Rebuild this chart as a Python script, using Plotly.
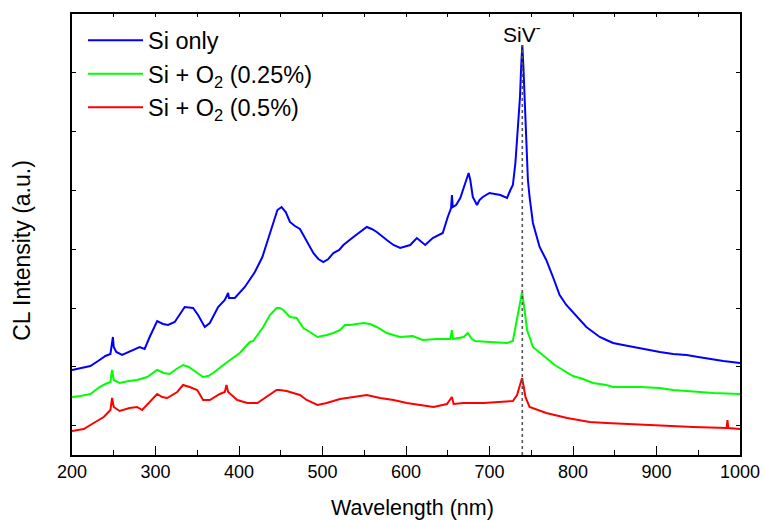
import plotly.graph_objects as go

# Wavelength (nm) and CL intensity (a.u.)
si_wl = [200, 210, 222, 233, 240, 246, 248, 249, 250, 253, 260, 270, 281, 287, 293, 302, 309, 315, 323,
         335, 345, 351, 359, 365, 375, 383, 386, 387, 388, 395, 407, 419, 428, 437, 446, 451, 456, 461,
         467, 473, 480, 489, 495, 501, 507, 513, 520, 525, 537, 545, 553, 559, 565, 577, 585, 593, 605,
         613, 618, 623, 632, 644, 650, 654, 655, 656, 660, 665, 671, 675, 677, 680, 685, 688, 692, 700,
         713, 721, 725, 728, 731, 734, 736.5, 738, 739.3, 740.5, 742, 744, 746, 748, 752, 760, 768, 776,
         784, 792, 800, 808, 816, 824, 832, 840, 848, 860, 872, 888, 904, 920, 936, 950, 964, 980, 1000]
si_int = [85, 87, 89, 95, 99, 101, 110, 118, 108, 103, 100, 104, 108, 106, 118, 134, 131, 130, 133,
          148, 147, 140, 128, 132, 148, 155, 160, 162, 157, 157, 168, 183, 198, 222, 245, 248, 243, 233,
          229, 226, 215, 202, 196, 193, 196, 202, 205, 210, 218, 223, 228, 226, 223, 215, 210, 207, 210,
          217, 213, 210, 217, 222, 238, 247, 260, 248, 250, 257, 272, 282, 275, 258, 250, 255, 258, 262,
          260, 257, 265, 270, 292, 325, 358, 390, 410, 390, 355, 308, 275, 258, 232, 208, 195, 178,
          160, 150, 143, 135, 128, 123, 118, 115, 112, 110, 108, 105, 103, 101, 100, 98, 96, 94, 92]

o025_wl = [200, 210, 222, 233, 240, 246, 248, 250, 257, 268, 278, 290, 302, 310, 317, 325, 333, 340, 345,
           357, 363, 369, 386, 401, 413, 417, 429, 437, 445, 449, 453, 461, 469, 477, 485, 494, 505, 513,
           521, 527, 533, 549, 557, 565, 577, 593, 608, 620, 637, 653, 655, 656, 669, 674, 679, 683, 700,
           721, 728, 733, 736, 739, 742, 745, 752, 760, 768, 778, 788, 800, 812, 824, 840, 848, 864, 880,
           904, 920, 936, 968, 1000]
o025_int = [58, 59, 61, 68, 71, 73, 85, 75, 72, 74, 75, 78, 85, 82, 81, 86, 90, 88, 85,
            78, 79, 82, 93, 102, 113, 114, 128, 140, 147, 147, 145, 138, 137, 127, 123, 118, 120, 122,
            125, 130, 130, 132, 131, 128, 122, 118, 119, 115, 116, 116, 125, 116, 118, 122, 116, 114, 113,
            112, 114, 135, 150, 163, 145, 125, 108, 102, 97, 90, 85, 79, 76, 72, 70, 68, 68, 68,
            67, 65, 64, 62, 61]

o05_wl = [200, 214, 226, 238, 246, 248, 250, 257, 269, 278, 284, 293, 302, 308, 314, 326, 333, 341, 350,
          357, 365, 377, 383, 385, 387, 398, 410, 422, 433, 445, 449, 457, 465, 473, 481, 494, 505, 521,
          537, 553, 569, 585, 601, 617, 633, 649, 655, 657, 669, 693, 721, 728, 733, 736, 739, 741, 743,
          748, 758, 768, 793, 808, 820, 840, 864, 904, 944, 984, 985, 986, 1000]
o05_int = [24, 26, 32, 38, 45, 57, 48, 44, 47, 48, 45, 53, 61, 58, 57, 63, 70, 68, 65,
           55, 55, 61, 63, 70, 63, 55, 52, 52, 58, 65, 65, 64, 62, 60, 55, 50, 52, 56,
           58, 60, 57, 55, 52, 50, 48, 51, 58, 51, 52, 52, 53, 54, 60, 68, 77, 68, 58,
           48, 45, 42, 37, 35, 33, 32, 31, 29, 28, 27, 35, 27, 26]

series_names = ["Si only", "Si + O<sub>2</sub> (0.25%)", "Si + O<sub>2</sub> (0.5%)"]
series_colors = ["#0000FF", "#00FF00", "#FF0000"]

siv_wl = [739.3, 739.3]
siv_int = [0, 410]

x_ticks = [200, 300, 400, 500, 600, 700, 800, 900, 1000]

FONT = "Liberation Sans, Arial, sans-serif"

fig = go.Figure()
for wl, inten, name, col in zip([si_wl, o025_wl, o05_wl], [si_int, o025_int, o05_int],
                                series_names, series_colors):
    fig.add_trace(go.Scatter(x=wl, y=inten, mode="lines", name=name,
                             line=dict(color=col, width=2)))

fig.add_trace(go.Scatter(x=siv_wl, y=siv_int, mode="lines", showlegend=False, xaxis="x2",
                         line=dict(color="#555555", width=1.6, dash="dot")))

fig.add_annotation(x=739.3, y=422, text="SiV<sup>-</sup>", showarrow=False,
                   font=dict(family=FONT, size=21, color="black"))

# axis titles
fig.add_annotation(xref="paper", yref="paper", x=0.509, y=-0.12, xanchor="center",
                   yanchor="middle", text="Wavelength (nm)", showarrow=False,
                   font=dict(family=FONT, size=21.5, color="black"))
fig.add_annotation(xref="paper", yref="paper", x=-0.075, y=0.465, xanchor="center",
                   yanchor="middle", text="CL Intensity (a.u.)", textangle=-90, showarrow=False,
                   font=dict(family=FONT, size=23, color="black"))

fig.update_layout(
    width=764, height=520,
    margin=dict(l=72, r=24, t=14, b=65),
    paper_bgcolor="white", plot_bgcolor="white",
    font=dict(family=FONT, color="black"),
    showlegend=True,
    legend=dict(x=0.0165, y=0.99, xanchor="left", yanchor="top", itemwidth=55,
                bgcolor="rgba(0,0,0,0)", font=dict(family=FONT, size=23.5),
                tracegroupgap=0),
    xaxis=dict(range=[200, 1000], tickvals=x_ticks, ticks="inside", ticklen=9, tickwidth=1.3,
               tickcolor="black", showline=True, linecolor="black", linewidth=1.6,
               showgrid=False, zeroline=False, tickfont=dict(size=18), automargin=False,
               minor=dict(ticks="inside", ticklen=5, dtick=50, tick0=200, tickcolor="black",
                          tickwidth=1.2, showgrid=False)),
    xaxis2=dict(range=[200, 1000], overlaying="x", side="top", anchor="y",
                tickvals=x_ticks, ticks="inside", ticklen=3, tickcolor="black",
                showticklabels=False, showline=True, linecolor="black", linewidth=1.6,
                showgrid=False, zeroline=False, automargin=False,
                minor=dict(ticks="inside", ticklen=3, dtick=50, tick0=200, tickcolor="black",
                           showgrid=False)),
    yaxis=dict(range=[0, 441], tick0=29.4, dtick=58.8, ticks="inside", ticklen=4,
               tickcolor="black", showticklabels=False, showline=True, linecolor="black",
               linewidth=1.6, mirror="ticks", showgrid=False, zeroline=False, automargin=False),
)

# remove the default 8px page margin so the figure fills the 764x520 window exactly
fig.write_html("out.html", config={"displayModeBar": False},
               post_script="document.body.style.margin='0';document.body.style.overflow='hidden';")
